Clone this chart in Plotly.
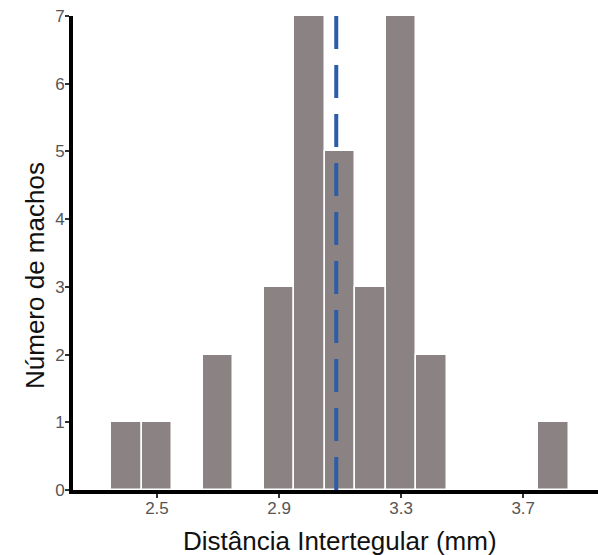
import plotly.graph_objects as go

# Histogram of intertegular distance (bin width 0.1 mm)
bin_centers = [2.4, 2.5, 2.7, 2.9, 3.0, 3.1, 3.2, 3.3, 3.4, 3.8]
counts = [1, 1, 2, 3, 7, 5, 3, 7, 2, 1]
bin_width = 0.1
x_ticks = [2.5, 2.9, 3.3, 3.7]
y_ticks = [0, 1, 2, 3, 4, 5, 6, 7]

mean_value = sum(c * n for c, n in zip(bin_centers, counts)) / sum(counts)

fig = go.Figure()
fig.add_trace(go.Bar(
    x=bin_centers,
    y=counts,
    width=[bin_width] * len(bin_centers),
    marker=dict(color="#8B8383", line=dict(color="white", width=1.5)),
    showlegend=False,
    hoverinfo="x+y",
))

fig.add_shape(
    type="line", xref="x", yref="y",
    x0=mean_value, x1=mean_value, y0=0, y1=7,
    line=dict(color="#2B5DA9", width=4, dash="33px,16px"),
    layer="above",
)

axis_font = dict(family="Arial, Liberation Sans, sans-serif", size=17, color="#555555")
title_font = dict(family="Arial, Liberation Sans, sans-serif", size=26, color="#111111")

# Axis titles as annotations for exact placement
fig.add_annotation(
    text="Distância Intertegular (mm)", font=title_font,
    xref="paper", yref="paper", x=0.5, y=0, xshift=4, yshift=-51,
    xanchor="center", yanchor="middle", showarrow=False,
)
fig.add_annotation(
    text="Número de machos", font=title_font, textangle=-90,
    xref="paper", yref="paper", x=0, y=0.4515, xshift=-38,
    xanchor="center", yanchor="middle", showarrow=False,
)

fig.update_layout(
    width=598, height=555,
    margin=dict(l=73, r=0, t=16, b=65),
    plot_bgcolor="white", paper_bgcolor="white",
    bargap=0,
    xaxis=dict(
        range=[2.225, 3.945],
        tickvals=x_ticks,
        ticktext=[f"{v:.1f}" for v in x_ticks],
        showgrid=False, zeroline=False,
        showline=True, linecolor="black", linewidth=4,
        ticks="outside", ticklen=4, tickwidth=2, tickcolor="#333333",
        tickfont=axis_font,
        ticklabelstandoff=-4,
    ),
    yaxis=dict(
        range=[0, 7],
        tickvals=y_ticks,
        showgrid=False, zeroline=False,
        showline=True, linecolor="black", linewidth=4,
        ticks="outside", ticklen=4, tickwidth=2, tickcolor="#333333",
        tickfont=axis_font,
        ticklabelstandoff=-3,
    ),
)

fig.write_html("out.html")
